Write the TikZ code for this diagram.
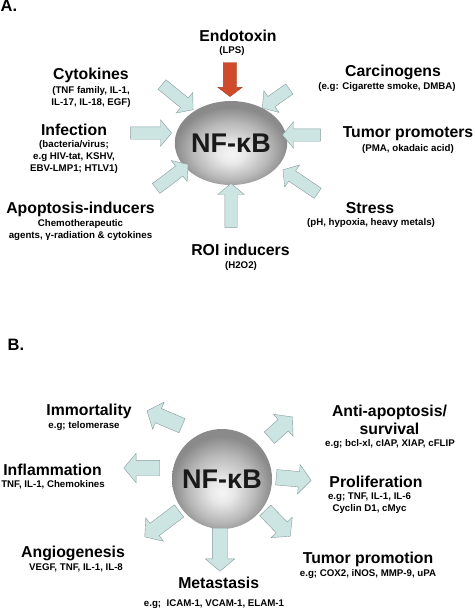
\documentclass[tikz,border=0pt]{standalone}
\usepackage{fontspec}
\setmainfont{Liberation Sans}
\usepackage{xcolor}
\usetikzlibrary{shapes.geometric,shapes.arrows}
\definecolor{arrowfill}{RGB}{204,229,227}
\definecolor{arrowline}{RGB}{135,155,155}
\definecolor{lpsred}{RGB}{208,74,44}
\pgfdeclareradialshading{nfshade}{\pgfpoint{0bp}{-7bp}}{color(0bp)=(black!4); color(6bp)=(black!9); color(17bp)=(black!28); color(25bp)=(black!46); color(50bp)=(black!46)}

\begin{document}
\begin{tikzpicture}[x=1pt,y=-1pt]
\tikzstyle{title} = [font=\fontsize{15.8}{18}\selectfont\bfseries, inner sep=0pt, align=center]
\tikzstyle{sub} = [font=\fontsize{9.7}{12}\selectfont\bfseries, inner sep=0pt, align=center]
\tikzstyle{panel} = [font=\fontsize{16.5}{18}\selectfont\bfseries, inner sep=0pt]
\tikzstyle{fatA} = [single arrow, draw=arrowline, fill=arrowfill, thin, inner xsep=0pt, inner ysep=6pt, single arrow head extend=7pt, single arrow tip angle=100]
\tikzstyle{fatB} = [fatA, inner ysep=7.5pt, single arrow head extend=7pt]
\tikzstyle{nfball} = [shading=nfshade, inner sep=0pt, font=\fontsize{27}{30}\selectfont\bfseries, text=black!90]
\useasboundingbox (0,0) rectangle (474,610);
\node[panel] (panA) at (9,6) {A.};
\node[nfball, ellipse, minimum width=102pt, minimum height=84pt] (nfA) at (231,143) {NF-κB};
\node[title] (endo) at (238,36) {Endotoxin};
\node[sub] (endosub) at (232,51) {(LPS)};
\node[title] (cyto) at (91,75) {Cytokines};
\node[sub] (cytosub) at (91,96.5) {(TNF family, IL-1,\\IL-17, IL-18, EGF)};
\node[title] (carc) at (393,72) {Carcinogens};
\node[sub] (carcsub) at (387,87) {(e.g: Cigarette smoke, DMBA)};
\node[title] (infe) at (74,130) {Infection};
\node[sub] (infesub) at (74,157) {(bacteria/virus;\\e.g HIV-tat, KSHV,\\EBV-LMP1; HTLV1)};
\node[title] (tumo) at (408,134) {Tumor promoters};
\node[sub] (tumosub) at (408,149) {(PMA, okadaic acid)};
\node[title] (apop) at (80.5,209) {Apoptosis-inducers};
\node[sub] (apopsub) at (80.5,230) {Chemotherapeutic\\agents, γ-radiation \& cytokines};
\node[title] (stre) at (370,208) {Stress};
\node[sub] (stresub) at (371,223) {(pH, hypoxia, heavy metals)};
\node[title] (roi) at (240.5,250) {ROI inducers};
\node[sub] (roisub) at (241,266) {(H2O2)};
\node[fatA, fill=lpsred, draw=lpsred!80!black, inner ysep=6.5pt, single arrow head extend=5.5pt, single arrow tip angle=106, minimum height=34pt, rotate=-90] (endoarr) at (230,77) {};
\node[fatA, minimum height=40pt, rotate=-39] (cytoarr) at (175.5,95.5) {};
\node[fatA, minimum height=33pt, rotate=-145] (carcarr) at (278,97) {};
\node[fatA, minimum height=41pt, rotate=0] (infearr) at (148.5,133) {};
\node[fatA, minimum height=38pt, rotate=180] (tumoarr) at (304,135) {};
\node[fatA, minimum height=40pt, rotate=37] (apoparr) at (170,178) {};
\node[fatA, minimum height=42pt, rotate=146] (strearr) at (302.5,183) {};
\node[fatA, minimum height=44pt, rotate=90] (roiarr) at (231,208) {};
\node[panel] (panB) at (16,345) {B.};
\node[nfball, circle, minimum size=100pt] (nfB) at (222,479) {NF-κB};
\node[title] (immo) at (89,411) {Immortality};
\node[sub] (immosub) at (84,426) {e.g; telomerase};
\node[title] (anti) at (389.5,420) {Anti-apoptosis/\\survival};
\node[sub] (antisub) at (390,444) {e.g; bcl-xl, cIAP, XIAP, cFLIP};
\node[title] (infl) at (52.5,470) {Inflammation};
\node[sub] (inflsub) at (53,485) {TNF, IL-1, Chemokines};
\node[title] (prol) at (376,482) {Proliferation};
\node[sub] (prolsub) at (369.5,503) {e.g; TNF, IL-1, IL-6\\Cyclin D1, cMyc};
\node[title] (angi) at (73,553) {Angiogenesis};
\node[sub] (angisub) at (76,568) {VEGF, TNF, IL-1, IL-8};
\node[title] (tump) at (368,559) {Tumor promotion};
\node[sub] (tumpsub) at (368,574) {e.g; COX2, iNOS, MMP-9, uPA};
\node[title] (meta) at (218.7,583) {Metastasis};
\node[sub] (metasub) at (214,604) {e.g;~ ICAM-1, VCAM-1, ELAM-1};
\node[fatB, minimum height=38pt, rotate=157] (immoarr) at (167.5,419.5) {};
\node[fatB, minimum height=31pt, rotate=42] (antiarr) at (278.5,429.5) {};
\node[fatB, minimum height=36pt, rotate=180] (inflarr) at (145,468) {};
\node[fatB, minimum height=35pt, rotate=-5] (prolarr) at (290.5,478.5) {};
\node[fatB, minimum height=43pt, rotate=-143] (angiarr) at (164.5,522) {};
\node[fatB, minimum height=36pt, rotate=-46] (tumparr) at (275.5,521) {};
\node[fatB, minimum height=43pt, rotate=-90] (metaarr) at (220,546.5) {};
\end{tikzpicture}
\end{document}
